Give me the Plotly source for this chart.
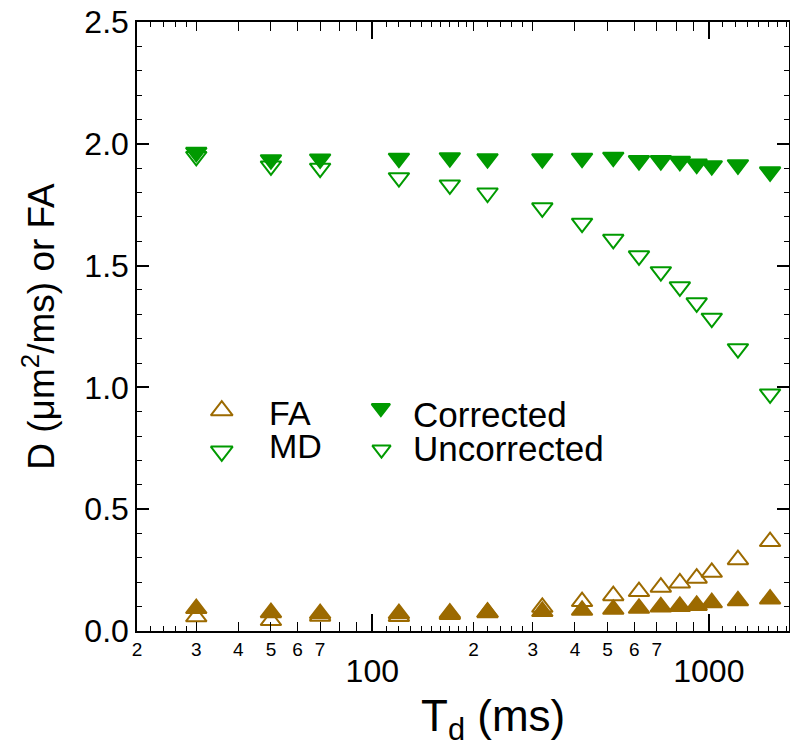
import math
import plotly.graph_objects as go

# ---------------- data ----------------
td_ms = [30, 50, 70, 120, 170, 220, 320, 420, 520, 620, 720, 820, 920, 1020, 1220, 1520]
md_corrected = [1.965, 1.935, 1.938, 1.941, 1.943, 1.939, 1.939, 1.941, 1.945, 1.931,
                1.931, 1.928, 1.917, 1.910, 1.914, 1.885]
md_uncorrected = [1.948, 1.909, 1.900, 1.861, 1.831, 1.798, 1.737, 1.674, 1.608, 1.540,
                  1.475, 1.413, 1.347, 1.284, 1.159, 0.973]
fa_corrected = [0.092, 0.075, 0.071, 0.071, 0.073, 0.077, 0.080, 0.085, 0.089, 0.093,
                0.099, 0.101, 0.105, 0.116, 0.124, 0.131]
fa_uncorrected = [0.058, 0.043, 0.061, 0.060, 0.068, 0.075, 0.097, 0.121, 0.145, 0.162,
                  0.180, 0.197, 0.217, 0.241, 0.293, 0.367]

x_tickvals = [20, 30, 40, 50, 60, 70, 200, 300, 400, 500, 600, 700]
x_ticktext = ["2", "3", "4", "5", "6", "7", "2", "3", "4", "5", "6", "7"]
x_unlabeled = [80, 90, 800, 900]
x_minor = [22, 24, 26, 28] + list(range(110, 200, 10)) + [220, 240, 260, 280] + list(range(1100, 1800, 100))
x_decades = [100, 1000]
x_decade_text = ["100", "1000"]
y_tickvals = [0, 0.5, 1.0, 1.5, 2.0, 2.5]
y_ticktext = ["0.0", "0.5", "1.0", "1.5", "2.0", "2.5"]

legend_left = ["FA", "MD"]
legend_right = ["Corrected", "Uncorrected"]

GREEN = "#009a00"
BROWN = "#9c6a00"
FONT = "Liberation Sans, Arial, sans-serif"
XR = [math.log10(20), math.log10(1730)]

fig = go.Figure()

def add(y, sym, color, filled, xa="x"):
    fig.add_trace(go.Scatter(
        x=td_ms, y=y, mode="markers", showlegend=False, hoverinfo="skip", xaxis=xa, yaxis="y",
        marker=dict(symbol=sym if filled else sym + "-open", size=18,
                    color=color, line=dict(color=color, width=2)),
    ))

add(fa_uncorrected, "triangle-up", BROWN, False, "x3")
add(fa_corrected, "triangle-up", BROWN, True)
add(md_uncorrected, "triangle-down", GREEN, False, "x4")
add(md_corrected, "triangle-down", GREEN, True)

# legend symbols on an invisible overlay axis (0..1 = plot area)
leg_sym = [
    (0.130, 0.362, "triangle-up-open", BROWN, 19),
    (0.130, 0.295, "triangle-down-open", GREEN, 19),
    (0.374, 0.366, "triangle-down", GREEN, 16),
    (0.375, 0.298, "triangle-down-open", GREEN, 16),
]
for lx, ly, s, c, sz in leg_sym:
    fig.add_trace(go.Scatter(
        x=[lx], y=[ly], xaxis="x2", yaxis="y2", mode="markers", showlegend=False,
        hoverinfo="skip",
        marker=dict(symbol=s, size=sz, color=c, line=dict(color=c, width=2)),
    ))

ann = []
for txt, ly in zip(legend_left, [0.358, 0.303]):
    ann.append(dict(text=txt, x=0.199, y=ly, xref="paper", yref="paper", xanchor="left",
                    yanchor="middle", showarrow=False, font=dict(size=34, color="black", family=FONT)))
for txt, ly in zip(legend_right, [0.356, 0.300]):
    ann.append(dict(text=txt, x=0.420, y=ly, xref="paper", yref="paper", xanchor="left",
                    yanchor="middle", showarrow=False, font=dict(size=35, color="black", family=FONT)))
ann.append(dict(text="D (μm<sup>2</sup>/ms) or FA", x=-0.15, y=0.50, xref="paper", yref="paper",
                textangle=-90, xanchor="center", yanchor="middle", showarrow=False,
                font=dict(size=37, color="black", family=FONT)))
ann.append(dict(text="T<sub>d</sub> (ms)", x=0.546, y=-0.145, xref="paper", yref="paper",
                xanchor="center", yanchor="middle", showarrow=False,
                font=dict(size=44, color="black", family=FONT)))

common_x = dict(type="log", range=XR, showgrid=False, zeroline=False, automargin=False,
                tickmode="array", ticks="inside", tickcolor="black")

fig.update_layout(
    template="none",
    width=790, height=748,
    margin=dict(l=137, r=1, t=22, b=117),
    paper_bgcolor="white", plot_bgcolor="white",
    font=dict(family=FONT, color="black"),
    annotations=ann,
    xaxis=dict(
        **common_x,
        showline=True, linecolor="black", linewidth=1.5, mirror="ticks",
        tickvals=x_tickvals, ticktext=x_ticktext,
        ticklen=9, tickwidth=1.3,
        tickfont=dict(size=19, family=FONT, color="black"),
        minor=dict(tickmode="array", tickvals=x_minor, ticks="inside", ticklen=5,
                   tickwidth=1.2, tickcolor="black", showgrid=False),
    ),
    xaxis3=dict(
        **common_x,
        overlaying="x", anchor="y", side="bottom",
        showline=False, mirror="ticks",
        tickvals=x_decades, ticktext=x_decade_text,
        ticklen=17, tickwidth=1.5,
        ticklabelstandoff=18,
        tickfont=dict(size=32, family=FONT, color="black"),
    ),
    xaxis4=dict(
        **common_x,
        overlaying="x", anchor="y", side="bottom",
        showline=False, mirror="ticks", showticklabels=False,
        tickvals=x_unlabeled, ticklen=9, tickwidth=1.3,
    ),
    yaxis=dict(
        range=[0, 2.5], showgrid=False, zeroline=False, automargin=False,
        showline=True, linecolor="black", linewidth=1.5, mirror="ticks",
        tickmode="array", tickvals=y_tickvals, ticktext=y_ticktext,
        ticks="inside", ticklen=12, tickwidth=1.5, tickcolor="black",
        tickfont=dict(size=32, family=FONT, color="black"),
        minor=dict(dtick=0.1, ticks="inside", ticklen=5, tickwidth=1.2,
                   tickcolor="black", showgrid=False),
    ),
    xaxis2=dict(range=[0, 1], overlaying="x", visible=False, fixedrange=True, automargin=False),
    yaxis2=dict(range=[0, 1], overlaying="y", visible=False, fixedrange=True, anchor="x2",
                automargin=False),
)

fig.write_html(
    "out.html",
    config={"displayModeBar": False},
    post_script="document.body.style.margin='0px';document.documentElement.style.overflow='hidden';document.body.style.overflow='hidden';",
)
